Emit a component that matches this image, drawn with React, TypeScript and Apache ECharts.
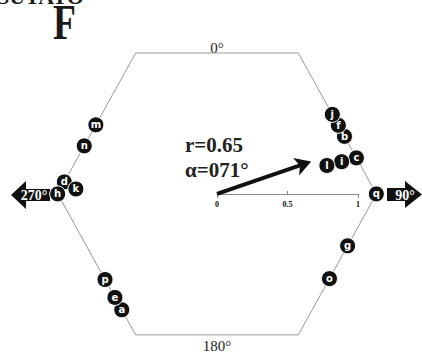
import React, { useEffect, useRef } from "react";
import * as echarts from "echarts";

// Sample letters, their azimuths (degrees clockwise from 0°) and how many
// circles they are stacked inward from the hexagon rim.
const SAMPLE_LABELS = ["a", "b", "c", "d", "e", "f", "g", "h", "i", "j", "k", "l", "m", "n", "o", "p", "q"];
const SAMPLE_AZIMUTHS = [219.4, 65.7, 75.5, 274.5, 224.6, 60.5, 111.7, 270, 75.5, 55.4, 272, 75.5, 299.7, 289.9, 127, 232.6, 90];
const SAMPLE_STACK = [0, 0, 0, 0, 0, 0, 0, 0, 1, 0, 1, 2, 0, 0, 0, 0, 0];

// Mean resultant vector
const RESULTANT_R = 0.65;
const RESULTANT_ALPHA = 71;

// Hexagon outline (scale units, y up), closed
const HEX_X = [0.577, 1.13, 0.577, -0.577, -1.13, -0.577, 0.577];
const HEX_Y = [1, 0, -1, -1, 0, 1, 1];

// Length scale
const SCALE_TICKS = [0, 0.5, 1];

const DIRECTION_LABELS = ["0°", "90°", "180°", "270°"];
const PANEL_TITLE = "F";
const SITE_TITLE = "SUTATO";

const STACK_STEP = 0.108;
const HEAD_LEN = 16;

function rimDistance(azDeg: number): number {
  const a = (azDeg * Math.PI) / 180;
  const dx = Math.sin(a);
  const dy = Math.cos(a);
  let best = Infinity;
  for (let i = 0; i < HEX_X.length - 1; i++) {
    const x1 = HEX_X[i], y1 = HEX_Y[i];
    const ex = HEX_X[i + 1] - x1, ey = HEX_Y[i + 1] - y1;
    const den = dx * ey - dy * ex;
    if (Math.abs(den) < 1e-9) continue;
    const t = (x1 * ey - y1 * ex) / den;
    const s = (x1 * dy - y1 * dx) / den;
    if (t > 0 && s >= -1e-6 && s <= 1 + 1e-6) best = Math.min(best, t);
  }
  return best;
}

const samplePoints = SAMPLE_LABELS.map((lab, i) => {
  const az = SAMPLE_AZIMUTHS[i];
  const r = rimDistance(az) - SAMPLE_STACK[i] * STACK_STEP;
  const a = (az * Math.PI) / 180;
  return [r * Math.sin(a), r * Math.cos(a), lab];
});

const alphaRad = (RESULTANT_ALPHA * Math.PI) / 180;
const resultantEnd = [RESULTANT_R * Math.sin(alphaRad), RESULTANT_R * Math.cos(alphaRad)];
// the arrow symbol's tip sits on its anchor; shift it forward by half its length
const headOffset = [(HEAD_LEN / 2) * Math.sin(alphaRad), -(HEAD_LEN / 2) * Math.cos(alphaRad)];

const SERIF = "'Liberation Serif', 'Times New Roman', serif";

export default function App() {
  const ref = useRef<HTMLDivElement>(null);

  useEffect(() => {
    if (!ref.current) return;
    const chart = echarts.init(ref.current, null, { renderer: "svg" });

    const option: any = {
      animation: false,
      backgroundColor: "#ffffff",
      grid: [
        { left: 5.5, width: 415.95, top: 10.7, height: 345.45 },
        { left: 217, width: 141, top: 194, height: 0 },
      ],
      xAxis: [
        { gridIndex: 0, type: "value", min: -1.5, max: 1.45, show: false },
        {
          gridIndex: 1,
          type: "value",
          min: 0,
          max: 1,
          interval: 0.5,
          position: "bottom",
          axisLine: { show: true, lineStyle: { color: "#8a8a8a", width: 1 } },
          axisTick: { show: true, customValues: [0, 1], length: 4, lineStyle: { color: "#8a8a8a" } },
          axisLabel: {
            show: true,
            customValues: SCALE_TICKS,
            formatter: (v: number) => String(v),
            margin: 6,
            fontFamily: SERIF,
            fontWeight: "bold",
            fontSize: 8,
            color: "#111",
          },
          splitLine: { show: false },
        },
        {
          gridIndex: 1,
          type: "value",
          min: 0,
          max: 1,
          position: "top",
          axisLine: { show: false },
          axisTick: { show: true, customValues: [0.5], length: 3, lineStyle: { color: "#8a8a8a" } },
          axisLabel: { show: false },
          splitLine: { show: false },
        },
      ],
      yAxis: [
        { gridIndex: 0, type: "value", min: -1.15, max: 1.3, show: false },
        { gridIndex: 1, type: "value", min: 0, max: 1, show: false },
      ],
      series: [
        {
          type: "line",
          xAxisIndex: 0,
          yAxisIndex: 0,
          data: HEX_X.map((x, i) => [x, HEX_Y[i]]),
          symbol: "none",
          clip: false,
          lineStyle: { color: "#9a9a9a", width: 1 },
          z: 1,
        },
        {
          type: "lines",
          coordinateSystem: "cartesian2d",
          xAxisIndex: 0,
          yAxisIndex: 0,
          data: [{ coords: [[0, 0], resultantEnd] }],
          symbol: ["none", "none"],
          clip: false,
          lineStyle: { color: "#111", width: 4, opacity: 1 },
          z: 3,
        },
        {
          // arrowhead centred on the resultant's end point
          type: "scatter",
          xAxisIndex: 0,
          yAxisIndex: 0,
          data: [resultantEnd],
          symbol: "arrow",
          symbolSize: [14, HEAD_LEN],
          symbolRotate: -RESULTANT_ALPHA,
          symbolOffset: headOffset,
          clip: false,
          itemStyle: { color: "#111", opacity: 1 },
          silent: true,
          z: 3,
        },
        {
          type: "scatter",
          xAxisIndex: 0,
          yAxisIndex: 0,
          data: samplePoints,
          symbol: "circle",
          symbolSize: 16,
          clip: false,
          itemStyle: { color: "#111", borderColor: "#fff", borderWidth: 1, opacity: 1 },
          label: {
            show: true,
            position: "inside",
            formatter: (p: any) => p.value[2],
            color: "#fff",
            fontFamily: "'DejaVu Sans', sans-serif",
            fontWeight: "bold",
            fontSize: 10,
          },
          z: 4,
        },
      ],
      graphic: [
        {
          type: "text",
          left: -3,
          top: -15,
          style: {
            text: SITE_TITLE,
            font: `bold 22px ${SERIF}`,
            fill: "#1a1a1a",
          },
        },
        {
          type: "text",
          x: 64.5,
          y: 23,
          scaleX: 0.75,
          style: {
            text: PANEL_TITLE,
            font: `bold 50px ${SERIF}`,
            fill: "#1a1a1a",
            align: "center",
            verticalAlign: "middle",
          },
        },
        {
          type: "text",
          x: 217,
          y: 48,
          style: { text: DIRECTION_LABELS[0], font: `15px ${SERIF}`, fill: "#222", align: "center", verticalAlign: "middle" },
        },
        {
          type: "text",
          x: 217,
          y: 346,
          style: { text: DIRECTION_LABELS[2], font: `15px ${SERIF}`, fill: "#222", align: "center", verticalAlign: "middle" },
        },
        {
          type: "polygon",
          shape: {
            points: [[387, 188], [405, 188], [405, 181], [422, 194.5], [405, 208], [405, 201], [387, 201]],
          },
          style: { fill: "#111" },
        },
        {
          type: "text",
          x: 405,
          y: 195,
          style: { text: DIRECTION_LABELS[1], font: `bold 14px ${SERIF}`, fill: "#fff", align: "center", verticalAlign: "middle" },
        },
        {
          type: "polygon",
          shape: {
            points: [[11, 195], [26, 181], [26, 189], [50, 189], [50, 201], [26, 201], [26, 209]],
          },
          style: { fill: "#111" },
        },
        {
          type: "text",
          x: 34,
          y: 195,
          style: { text: DIRECTION_LABELS[3], font: `bold 14px ${SERIF}`, fill: "#fff", align: "center", verticalAlign: "middle" },
        },
        {
          type: "text",
          x: 185,
          y: 145,
          style: {
            text: `r=${RESULTANT_R.toFixed(2)}`,
            font: `bold 21px ${SERIF}`,
            fill: "#222",
            align: "left",
            verticalAlign: "middle",
          },
        },
        {
          type: "text",
          x: 185,
          y: 170,
          style: {
            text: `α=${String(RESULTANT_ALPHA).padStart(3, "0")}°`,
            font: `bold 21px ${SERIF}`,
            fill: "#222",
            align: "left",
            verticalAlign: "middle",
          },
        },
      ],
    };

    chart.setOption(option);
    return () => chart.dispose();
  }, []);

  return (
    <div
      ref={ref}
      style={{ position: "fixed", left: 0, top: 0, width: 422, height: 356, background: "#fff" }}
    />
  );
}
